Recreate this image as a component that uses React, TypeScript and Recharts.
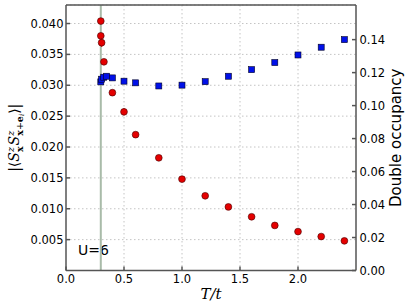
import React from 'react';
import { ComposedChart, Scatter, XAxis, YAxis, CartesianGrid, ReferenceLine, ErrorBar } from 'recharts';

// spin correlation (left axis, red circles)
const tSpin = [0.3, 0.3, 0.307, 0.327, 0.4, 0.5, 0.6, 0.8, 1.0, 1.2, 1.4, 1.6, 1.8, 2.0, 2.2, 2.4];
const spinCorr = [0.0404, 0.038, 0.0369, 0.0338, 0.0288, 0.0257, 0.022, 0.01825, 0.0148, 0.0121, 0.0103, 0.0087, 0.0073, 0.0063, 0.0055, 0.0048];
const spinErr = [0.0002, 0.0004, 0.00067, 0.00043, 0.0002, 0.00055, 0.0002, 0.0001, 0.0001, 0.0001, 0.0001, 0.0001, 0.0001, 0.0001, 0.0001, 0.0001];

// double occupancy (right axis, blue squares)
const tDocc = [0.3, 0.307, 0.325, 0.35, 0.4, 0.5, 0.6, 0.8, 1.0, 1.2, 1.4, 1.6, 1.8, 2.0, 2.2, 2.4];
const doubleOcc = [0.1144, 0.116, 0.1172, 0.1178, 0.1168, 0.1148, 0.1138, 0.1119, 0.1124, 0.1145, 0.1178, 0.1218, 0.1261, 0.1307, 0.1354, 0.14];

const xTicks = [0, 0.5, 1.0, 1.5, 2.0];
const leftTicks = [0.005, 0.01, 0.015, 0.02, 0.025, 0.03, 0.035, 0.04];
const rightTicks = [0, 0.02, 0.04, 0.06, 0.08, 0.1, 0.12, 0.14];
const Tc = 0.3;

const spinData = tSpin.map((t, i) => ({ t, v: spinCorr[i], err: spinErr[i] }));
const doccData = tDocc.map((t, i) => ({ t, v: doubleOcc[i] }));

const tickFont = { fontFamily: 'DejaVu Sans', fontSize: 11.5, fill: '#000' };
const axisColor = '#555';

const RedDot = (p: any) => (
  <circle cx={p.cx} cy={p.cy} r={3.4} fill="#e40000" stroke="#400" strokeWidth={0.6} />
);
const BlueSquare = (p: any) => (
  <rect x={p.cx - 3} y={p.cy - 3} width={6} height={6} fill="#0010e8" stroke="#002" strokeWidth={0.6} />
);

const LeftLabel = () => (
  <text
    transform="translate(19,137.75) rotate(-90)"
    textAnchor="middle"
    fontFamily="DejaVu Serif"
    fontSize={14}
    fill="#000"
  >
    <tspan fontStyle="normal">|⟨</tspan>
    <tspan fontStyle="italic">S</tspan>
    <tspan fontStyle="italic" fontSize={9.5} dy={-5.5}>z</tspan>
    <tspan fontWeight="bold" fontSize={9.5} dx={-5} dy={9}>x</tspan>
    <tspan fontStyle="italic" dx={1} dy={-3.5}>S</tspan>
    <tspan fontStyle="italic" fontSize={9.5} dy={-5.5}>z</tspan>
    <tspan fontSize={9.5} dx={-5} dy={9}>
      <tspan fontWeight="bold">x</tspan>+<tspan fontWeight="bold">e</tspan>
    </tspan>
    <tspan fontStyle="italic" fontSize={7} dy={1.5}>i</tspan>
    <tspan dy={-5}>⟩|</tspan>
  </text>
);

const RightLabel = () => (
  <text
    transform="translate(400.5,137.75) rotate(-90)"
    textAnchor="middle"
    fontFamily="DejaVu Sans"
    fontSize={15}
    fill="#000"
  >
    Double occupancy
  </text>
);

export default function App() {
  return (
    <div style={{ position: 'absolute', left: 0, top: 0 }}>
      <ComposedChart width={407} height={307} margin={{ top: 0, right: 0, bottom: 0, left: 0 }}>
        <CartesianGrid
          xAxisId="x"
          yAxisId="left"
          stroke="#c4c4c4"
          strokeDasharray="1.5 2.5"
          verticalValues={[0.5, 1.0, 1.5, 2.0]}
        />
        <XAxis
          xAxisId="x"
          type="number"
          dataKey="t"
          domain={[0, 2.5]}
          ticks={xTicks}
          allowDataOverflow
          tickFormatter={(v: number) => v.toFixed(1)}
          tick={tickFont}
          height={36.5}
          stroke={axisColor}
          strokeWidth={1.5}
          tickSize={-4}
          tickMargin={8.5}
          label={{
            value: 'T/t',
            position: 'insideBottom',
            offset: 8,
            style: { fontFamily: 'DejaVu Serif', fontStyle: 'italic', fontSize: 15, fill: '#000' },
          }}
        />
        <XAxis
          xAxisId="top"
          orientation="top"
          type="number"
          domain={[0, 2.5]}
          ticks={xTicks}
          allowDataOverflow
          tickFormatter={() => ''}
          height={5}
          stroke={axisColor}
          strokeWidth={1.5}
          tickSize={-4}
        />
        <YAxis
          yAxisId="left"
          type="number"
          domain={[0, 0.043]}
          ticks={leftTicks}
          allowDataOverflow
          tickFormatter={(v: number) => v.toFixed(3)}
          tick={tickFont}
          width={66}
          stroke={axisColor}
          strokeWidth={1.5}
          tickSize={-4}
          tickMargin={6.5}
          label={{ content: () => <LeftLabel /> }}
        />
        <YAxis
          yAxisId="right"
          orientation="right"
          type="number"
          domain={[0, 0.161]}
          ticks={rightTicks}
          allowDataOverflow
          tickFormatter={(v: number) => v.toFixed(2)}
          tick={{ ...tickFont, textAnchor: 'start' }}
          width={51}
          stroke={axisColor}
          strokeWidth={1.5}
          tickSize={-4}
          tickMargin={7.5}
          label={{ content: () => <RightLabel /> }}
        />
        <ReferenceLine xAxisId="x" yAxisId="left" x={Tc} stroke="#a9bba9" strokeWidth={2} />
        <Scatter
          xAxisId="x"
          yAxisId="right"
          data={doccData}
          dataKey="v"
          shape={BlueSquare}
          isAnimationActive={false}
        />
        <Scatter
          xAxisId="x"
          yAxisId="left"
          data={spinData}
          dataKey="v"
          shape={RedDot}
          isAnimationActive={false}
        >
          <ErrorBar dataKey="err" direction="y" width={0} stroke="#e40000" strokeWidth={1.5} />
        </Scatter>
        <text x={78} y={254.5} fontFamily="DejaVu Sans" fontSize={14} fill="#000">
          U=6
        </text>
      </ComposedChart>
    </div>
  );
}
